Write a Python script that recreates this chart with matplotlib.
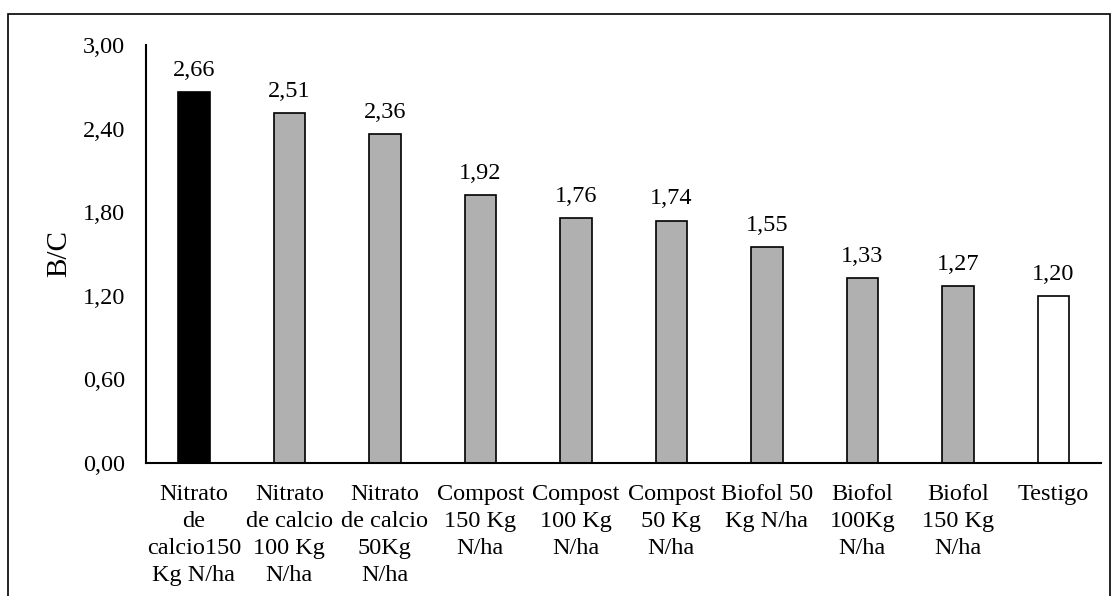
import matplotlib.pyplot as plt
from matplotlib.patches import Rectangle

plt.rcParams['font.family'] = ['Liberation Serif', 'DejaVu Serif']

categories = ['Nitrato\nde\ncalcio150\nKg N/ha', 'Nitrato\nde calcio\n100 Kg\nN/ha',
              'Nitrato\nde calcio\n50Kg\nN/ha', 'Compost\n150 Kg\nN/ha', 'Compost\n100 Kg\nN/ha',
              'Compost\n50 Kg\nN/ha', 'Biofol 50\nKg N/ha', 'Biofol\n100Kg\nN/ha',
              'Biofol\n150 Kg\nN/ha', 'Testigo']
values = [2.66, 2.51, 2.36, 1.92, 1.76, 1.74, 1.55, 1.33, 1.27, 1.20]
colors = ['black'] + ['#b0b0b0'] * 8 + ['white']
yticks = [0.0, 0.6, 1.2, 1.8, 2.4, 3.0]

fig = plt.figure(figsize=(11.19, 5.96), dpi=100)
ax = fig.add_axes([0.1305, 0.2232, 0.8535, 0.7013])

x = range(len(categories))
bars = ax.bar(x, values, width=0.33, color=colors, edgecolor='black', linewidth=1.2)
for xi, v in zip(x, values):
    ax.annotate(f'{v:.2f}'.replace('.', ','), (xi, v), xytext=(0, 8), textcoords='offset points',
                ha='center', va='bottom', fontsize=17.5)

ax.set_xlim(-0.5, len(categories) - 0.5)
ax.set_ylim(0, 3.0)
ax.set_yticks(yticks)
ax.set_yticklabels([f'{t:.2f}'.replace('.', ',') for t in yticks], fontsize=17.5)
ax.set_xticks(list(x))
ax.set_xticklabels(categories, fontsize=17.5, linespacing=1.38)
ax.tick_params(axis='y', length=0, pad=15)
ax.tick_params(axis='x', length=0, pad=15)
for s in ['top', 'right']:
    ax.spines[s].set_visible(False)
ax.spines['left'].set_linewidth(1.5)
ax.spines['bottom'].set_linewidth(1.5)
ax.set_ylabel('B/C', fontsize=21, labelpad=8)

# marco exterior
fig.patches.append(Rectangle((8 / 1119, -0.01), 1102 / 1119, 1 - 14 / 596 + 0.01,
                             transform=fig.transFigure, fill=False, edgecolor='black', linewidth=1.2))

plt.savefig('out.png', dpi=100)
